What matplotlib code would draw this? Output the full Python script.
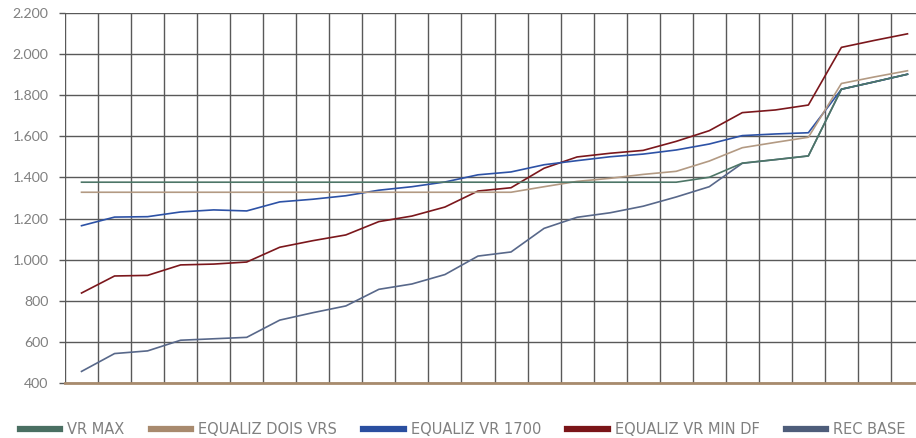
import matplotlib.pyplot as plt
from matplotlib.ticker import FuncFormatter, MultipleLocator
from matplotlib import rcParams

rcParams.update({
    "font.family": ['Lato', 'DejaVu Sans'],
    "font.size": 9,
})

n_cat = 26
vr_max = [1377] * 19 + [1401, 1470, 1487, 1505, 1830, 1866, 1903]
dois_vrs = [1328] * 14 + [1355, 1381, 1396, 1415, 1430, 1480, 1545, 1571, 1596, 1858, 1890, 1920]
vr_1700 = [1165, 1207, 1209, 1232, 1242, 1237, 1281, 1294, 1311, 1338, 1355, 1378, 1413,
           1427, 1462, 1482, 1501, 1514, 1534, 1563, 1604, 1612, 1618, 1830, 1866, 1903]
vr_min_df = [837, 920, 923, 974, 978, 988, 1060, 1092, 1120, 1185, 1212, 1256, 1334,
             1350, 1445, 1500, 1518, 1532, 1576, 1628, 1716, 1729, 1753, 2034, 2068, 2100]
rec_base = [455, 542, 555, 607, 614, 621, 705, 741, 774, 855, 881, 927, 1017,
            1037, 1152, 1206, 1228, 1260, 1305, 1355, 1469, 1487, 1505, 1830, 1866, 1903]

labels = ["VR MAX", "EQUALIZ DOIS VRS", "EQUALIZ VR 1700", "EQUALIZ VR MIN DF", "REC BASE"]
series = [vr_max, dois_vrs, vr_1700, vr_min_df, rec_base]
colors = ["#4d7667", "#b39a83", "#2d52a6", "#7b171c", "#58688a"]
zorders = [7, 5, 4, 3, 2]

fig = plt.figure(figsize=(9.16, 4.38), dpi=100)
ax = fig.add_axes([65 / 916, 1 - 382.7 / 438, (924 - 65) / 916, (382.7 - 13.3) / 438])

x = list(range(n_cat))
for s, lab, c, z in zip(series, labels, colors, zorders):
    ax.plot(x, s, color=c, lw=1.2, label=lab, zorder=z, solid_joinstyle='round')

ax.set_xlim(-0.5, n_cat - 0.5)
ax.set_ylim(400, 2200)
ax.yaxis.set_major_locator(MultipleLocator(200))
ax.yaxis.set_major_formatter(FuncFormatter(lambda v, p: f"{int(v):,}".replace(",", ".")))
ax.set_xticks([i - 0.5 for i in range(n_cat + 1)])
ax.set_xticklabels([])
ax.tick_params(axis='x', length=0)
ax.tick_params(axis='y', length=4.3, width=1.0, color="#595959", pad=7.5,
               labelcolor="#808080", labelsize=10.2)
ax.grid(True, color="#595959", lw=1.0, zorder=1)

for sp in ["top", "right", "left"]:
    ax.spines[sp].set_visible(False)
ax.spines["bottom"].set_color("#a88b6d")
ax.spines["bottom"].set_linewidth(2.0)
ax.spines["bottom"].set_zorder(8)

# legend along the bottom edge
handles = [plt.Line2D([], [], color=c, lw=4.5) for c in ["#4a6f62", "#a88a6e", "#2a4fa0", "#7a1518", "#4e5d7a"]]
leg = fig.legend(handles, labels, loc="center left", bbox_to_anchor=(20 / 916, 1 - 430 / 438), ncol=5,
                 frameon=False, handlelength=2.75, handletextpad=0.5, columnspacing=1.8,
                 borderaxespad=0, borderpad=0,
                 prop={"family": ["Liberation Sans Narrow", "DejaVu Sans"], "size": 10.5})
for t in leg.get_texts():
    t.set_color("#808080")

fig.savefig("out.png", dpi=100)
